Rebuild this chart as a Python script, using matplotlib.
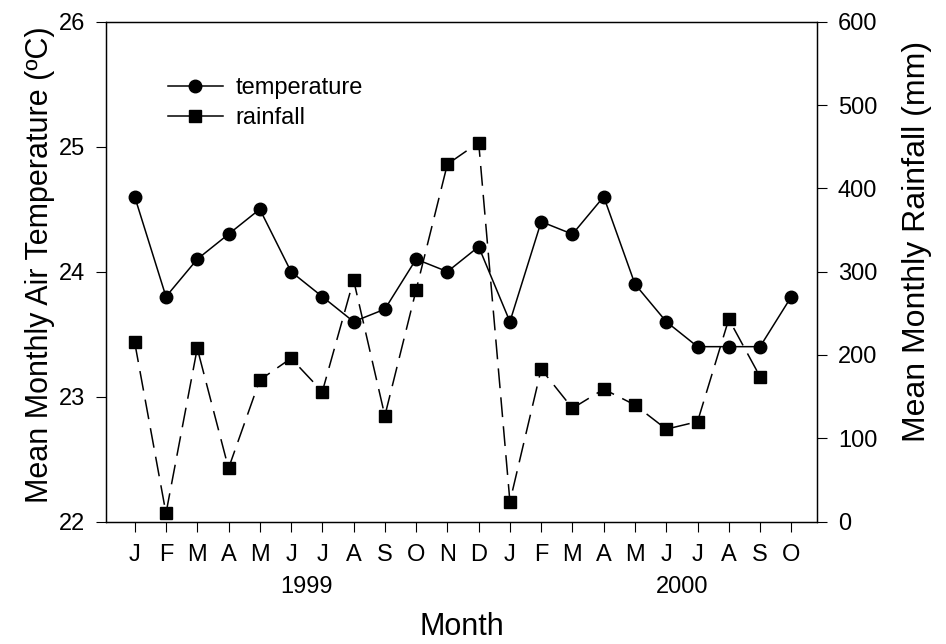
import numpy as np
import matplotlib.pyplot as plt
from matplotlib.lines import Line2D
import matplotlib.transforms as mtransforms

plt.rcParams['font.family'] = ['Liberation Sans', 'DejaVu Sans']

# Data
months = ['J', 'F', 'M', 'A', 'M', 'J', 'J', 'A', 'S', 'O', 'N', 'D',
          'J', 'F', 'M', 'A', 'M', 'J', 'J', 'A', 'S', 'O']
years = ['1999', '2000']
year_pos = [6.5, 18.5]

temperature = [24.6, 23.8, 24.1, 24.3, 24.5, 24.0, 23.8, 23.6, 23.7, 24.1, 24.0, 24.2,
               23.6, 24.4, 24.3, 24.6, 23.9, 23.6, 23.4, 23.4, 23.4, 23.8]
rainfall = [215, 10, 208, 64, 170, 196, 156, 290, 127, 278, 429, 455,
            24, 183, 136, 159, 140, 111, 120, 243, 174]

x_temp = np.arange(1, len(temperature) + 1)
x_rain = np.arange(1, len(rainfall) + 1)

fig = plt.figure(figsize=(9.46, 6.44), dpi=100)
ax = fig.add_axes([0.112, 0.19, 0.7516, 0.7763])
ax2 = ax.twinx()

ax.plot(x_temp, temperature, color='black', linewidth=1.1, marker='o',
        markersize=9, zorder=3)
ax2.plot(x_rain, rainfall, color='black', linewidth=1.1, linestyle=(0, (13, 6)),
         marker='s', markersize=8, zorder=3)

ax.set_xlim(0.08, 22.82)
ax.set_ylim(22, 26)
ax2.set_ylim(0, 600)

ax.set_xticks(x_temp)
ax.set_xticklabels(months)
ax.set_yticks([22, 23, 24, 25, 26])
ax2.set_yticks([0, 100, 200, 300, 400, 500, 600])

for a in (ax, ax2):
    a.tick_params(direction='out', length=7, width=0.8, labelsize=17, pad=8)
    for s in a.spines.values():
        s.set_linewidth(0.9)
ax.tick_params(axis='x', pad=9)

ax.set_ylabel('Mean Monthly Air Temperature (ºC)', fontsize=22)
ax.yaxis.set_label_coords(-0.072, 0.513)
ax2.set_ylabel('Mean Monthly Rainfall (mm)', fontsize=23)
ax2.yaxis.set_label_coords(1.12, 0.56)
ax.set_xlabel('Month', fontsize=22)
ax.xaxis.set_label_coords(0.5, -0.18)

trans = mtransforms.blended_transform_factory(ax.transData, ax.transAxes)
for yr, xp in zip(years, year_pos):
    ax.text(xp, -0.131, yr, transform=trans, ha='center', va='center', fontsize=17)

handles = [Line2D([], [], color='black', linewidth=1.1, marker='o', markersize=9),
           Line2D([], [], color='black', linewidth=1.1, marker='s', markersize=8)]
ax.legend(handles, ['temperature', 'rainfall'], loc='upper left',
          bbox_to_anchor=(0.071, 0.913), frameon=False, fontsize=17,
          borderpad=0, handlelength=2.3, handletextpad=0.55, labelspacing=0.35)

fig.savefig('out.png', dpi=100)
